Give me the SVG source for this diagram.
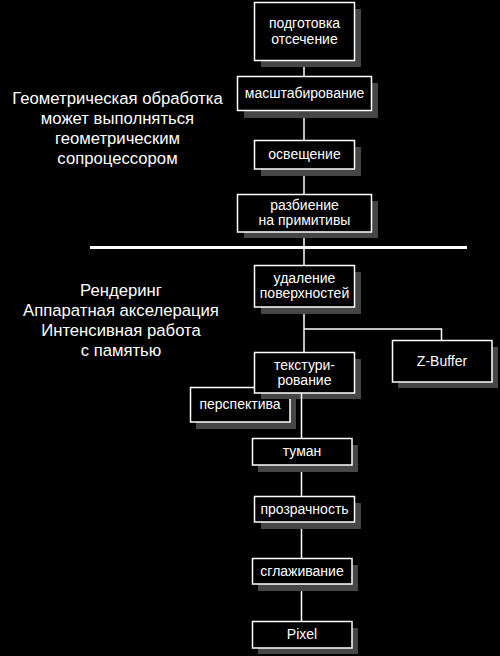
<svg xmlns="http://www.w3.org/2000/svg" width="500" height="656" viewBox="0 0 500 656">
<style>
.sh{fill:#464646}
.bx{fill:#000;stroke:#fff;stroke-width:1.5}
.t{font-family:"Liberation Sans",Arial,sans-serif;font-size:14px;fill:#fff;text-anchor:middle}
.lt{font-family:"Liberation Sans",Arial,sans-serif;font-size:16.7px;fill:#fff;text-anchor:middle}
.ln{stroke:#fff;stroke-width:1.5;fill:none}
</style>
<rect width="500" height="656" fill="#000"/>
<g id="connectors">
<path class="ln" d="M304 60V265M304 307V352M304 329H441.5V340M301.5 393V621"/>
<rect x="90" y="246" width="377" height="3" fill="#fff"/>
</g>
<g id="labels">
<text class="lt" x="117.5" y="104">Геометрическая обработка</text>
<text class="lt" x="117.5" y="124">может выполняться</text>
<text class="lt" x="117.5" y="144">геометрическим</text>
<text class="lt" x="117.5" y="164">сопроцессором</text>
<text class="lt" x="121" y="296">Рендеринг</text>
<text class="lt" x="121" y="316">Аппаратная акселерация</text>
<text class="lt" x="121" y="336">Интенсивная работа</text>
<text class="lt" x="121" y="356">с памятью</text>
</g>
<g id="n1"><rect class="sh" x="261" y="9" width="100" height="58"/><rect class="bx" x="254.5" y="2.5" width="100" height="58"/><text class="t" x="304.5" y="28">подготовка</text><text class="t" x="304.5" y="43.5">отсечение</text></g>
<g id="n2"><rect class="sh" x="244" y="83" width="134" height="35"/><rect class="bx" x="237.5" y="76.5" width="134" height="34"/><text class="t" x="304.5" y="98">масштабирование</text></g>
<g id="n3"><rect class="sh" x="261" y="147" width="100" height="29"/><rect class="bx" x="254.5" y="140.5" width="100" height="28.5"/><text class="t" x="304.5" y="159">освещение</text></g>
<g id="n4"><rect class="sh" x="244" y="201" width="134" height="37"/><rect class="bx" x="237.5" y="194.5" width="134" height="37.5"/><text class="t" x="304.5" y="210">разбиение</text><text class="t" x="304.5" y="225">на примитивы</text></g>
<g id="n5"><rect class="sh" x="261" y="272" width="100" height="42"/><rect class="bx" x="254.5" y="265.5" width="100" height="41.5"/><text class="t" x="304.5" y="283">удаление</text><text class="t" x="304.5" y="298">поверхностей</text></g>
<g id="zbuf"><rect class="sh" x="398" y="347" width="100" height="41"/><rect class="bx" x="392.5" y="340.5" width="99.5" height="41.5"/><text class="t" x="442" y="366">Z-Buffer</text></g>
<g id="persp"><rect class="sh" x="196" y="394" width="100" height="35"/><rect class="bx" x="190.5" y="387.5" width="99.5" height="34.5"/><text class="t" x="240" y="409">перспектива</text></g>
<g id="tex"><rect class="sh" x="261" y="359" width="100" height="40"/><rect class="bx" x="254.5" y="352.5" width="100" height="40.5"/><text class="t" x="304.5" y="369.5">текстури-</text><text class="t" x="304.5" y="384.5">рование</text></g>
<path class="ln" d="M301.5 393V399"/>
<g id="fog"><rect class="sh" x="258" y="445" width="100" height="27"/><rect class="bx" x="252.5" y="438.5" width="99.5" height="26.5"/><text class="t" x="302" y="456">туман</text></g>
<g id="transp"><rect class="sh" x="261" y="503" width="100" height="26"/><rect class="bx" x="254.5" y="496.5" width="100" height="25.5"/><text class="t" x="304.5" y="513.5">прозрачность</text></g>
<g id="aa"><rect class="sh" x="258" y="565" width="100" height="26"/><rect class="bx" x="252.5" y="558.5" width="99.5" height="25.5"/><text class="t" x="302" y="575.5">сглаживание</text></g>
<g id="pixel"><rect class="sh" x="258" y="628" width="100" height="26"/><rect class="bx" x="252.5" y="621.5" width="99.5" height="26.5"/><text class="t" x="302" y="639">Pixel</text></g>
</svg>
